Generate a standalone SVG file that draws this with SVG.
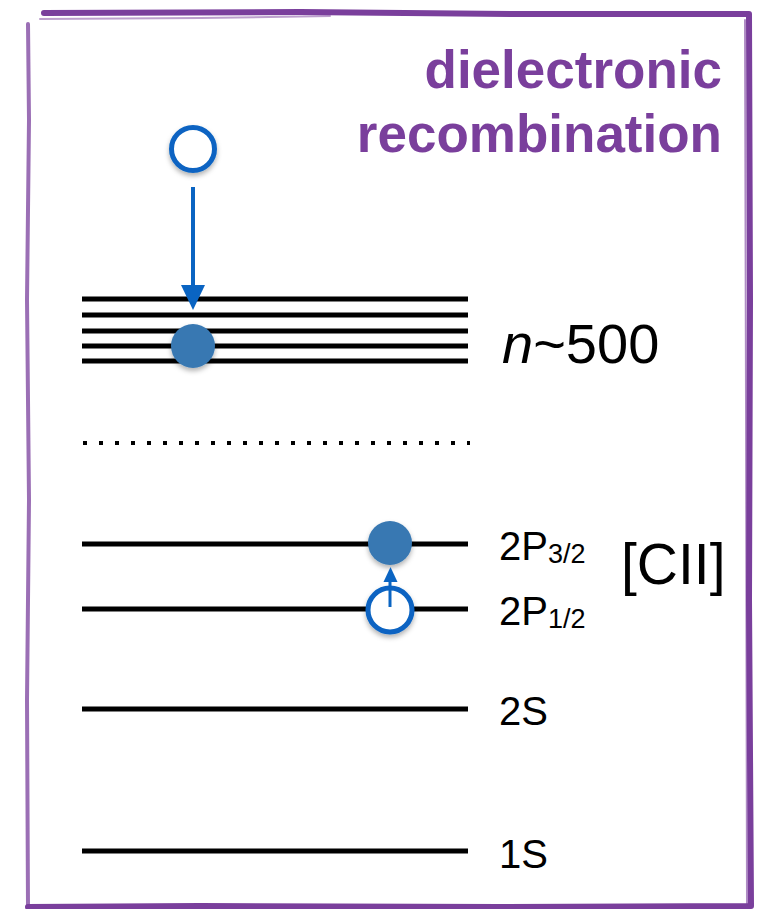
<svg xmlns="http://www.w3.org/2000/svg" width="769" height="909" viewBox="0 0 769 909">
<style>
.lvl{stroke:#000;stroke-width:5;fill:none}
.border{fill:none;stroke:#7a3f9c;stroke-linecap:round;stroke-linejoin:round}
.lbl{font-family:"Liberation Sans",Arial,sans-serif;fill:#000}
.title{font-family:"Liberation Sans",Arial,sans-serif;font-weight:bold;fill:#7a3f9c;font-size:53px;text-anchor:end}
.open{fill:#fff;stroke:#0a64c2;stroke-width:5}
.full{fill:#3878b2}
.arr{stroke:#0a64c2;fill:none}
</style>
<defs>
<filter id="sh" x="-50%" y="-50%" width="200%" height="200%">
<feDropShadow dx="0" dy="3" stdDeviation="2.5" flood-color="#000" flood-opacity="0.3"/>
</filter>
</defs>
<g id="frame">
<path class="border" stroke-width="6" d="M44,13 L300,12 L520,14 L749,14 L750,300 L749,600 L751,906 L500,907 L200,906 L28,907"/>
<path class="border" stroke-width="4" opacity="0.75" d="M28,907 L27,700 L29,500 L27,300 L29,120 L28,24"/>
<path class="border" stroke-width="2" opacity="0.5" d="M40,19 L200,18 L330,16"/>
<path class="border" stroke-width="2" opacity="0.6" d="M745,20 L746,400 L747,905"/>
</g>
<g id="title">
<text class="title" x="722" y="88">dielectronic</text>
<text class="title" x="722" y="152">recombination</text>
</g>
<g id="levels-high">
<line class="lvl" x1="82" y1="299" x2="468" y2="299"/>
<line class="lvl" x1="82" y1="315" x2="468" y2="315"/>
<line class="lvl" x1="82" y1="331" x2="468" y2="331"/>
<line class="lvl" x1="82" y1="346" x2="468" y2="346"/>
<line class="lvl" x1="82" y1="361" x2="468" y2="361"/>
<text class="lbl" x="502" y="363" font-size="56"><tspan font-style="italic">n</tspan>~500</text>
</g>
<g id="dots">
<line x1="83" y1="443" x2="470" y2="443" stroke="#000" stroke-width="4" stroke-dasharray="4 12"/>
</g>
<g id="level-2P32">
<line class="lvl" x1="82" y1="544" x2="468" y2="544"/>
<text class="lbl" x="499" y="560" font-size="40">2P<tspan font-size="27" dy="3">3/2</tspan></text>
</g>
<g id="level-2P12">
<line class="lvl" x1="82" y1="609" x2="468" y2="609"/>
<text class="lbl" x="499" y="625" font-size="40">2P<tspan font-size="27" dy="3">1/2</tspan></text>
</g>
<g id="label-CII">
<text class="lbl" x="621" y="584" font-size="57">[CII]</text>
</g>
<g id="level-2S">
<line class="lvl" x1="82" y1="709" x2="468" y2="709"/>
<text class="lbl" x="499" y="725" font-size="40">2S</text>
</g>
<g id="level-1S">
<line class="lvl" x1="82" y1="851" x2="468" y2="851"/>
<text class="lbl" x="499" y="868" font-size="40">1S</text>
</g>
<g id="electron-free">
<circle class="open" cx="193" cy="149" r="21.5" filter="url(#sh)"/>
</g>
<g id="electron-captured">
<circle class="full" cx="193" cy="346" r="22" filter="url(#sh)"/>
</g>
<g id="ion-lower">
<circle class="open" cx="390" cy="610" r="22" filter="url(#sh)"/>
</g>
<g id="ion-upper">
<circle class="full" cx="390" cy="543" r="22" filter="url(#sh)"/>
</g>
<g id="connectors">
<line class="arr" stroke-width="4" x1="193" y1="187" x2="193" y2="287"/>
<polygon points="181,285 205,285 193,310" fill="#0a64c2"/>
<line class="arr" stroke-width="3" x1="390" y1="607" x2="390" y2="580"/>
<polygon points="383.5,582 397.5,582 390.5,567" fill="#0a64c2"/>
</g>
</svg>
